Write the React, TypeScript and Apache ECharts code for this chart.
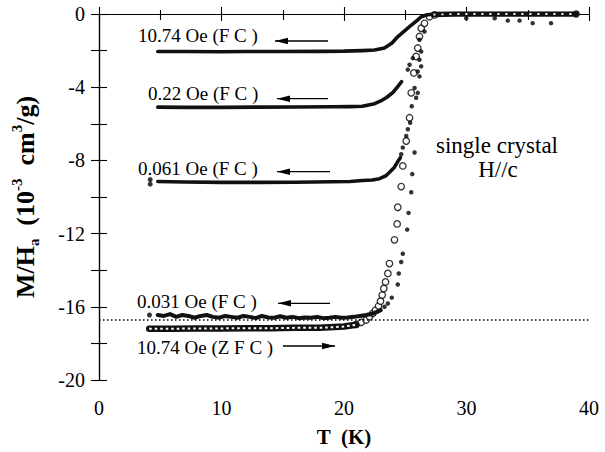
import React, { useEffect, useRef } from "react";
import * as echarts from "echarts";

const FONT = '"Liberation Serif", "Times New Roman", serif';

// Tick values
const xTicks = [0, 10, 20, 30, 40];
const yTicks = [0, -4, -8, -12, -16, -20];

// 10.74 Oe FC
const fc1074T = [4.8, 7.0, 10.0, 12.0, 15.0, 18.0, 20.0, 21.5, 22.5, 23.3, 23.9, 24.4, 24.9, 25.35, 25.7, 26.0, 26.3, 26.8, 27.5];
const fc1074M = [-2.05, -2.05, -2.06, -2.05, -2.05, -2.04, -2.03, -2.0, -1.97, -1.86, -1.6, -1.23, -0.95, -0.69, -0.5, -0.33, -0.15, -0.04, 0];

// 0.22 Oe FC
const fc022T = [4.8, 7.0, 10.0, 13.0, 16.0, 19.0, 20.5, 21.5, 22.5, 23.0, 23.5, 24.0, 24.4, 24.7];
const fc022M = [-5.09, -5.1, -5.1, -5.09, -5.08, -5.07, -5.06, -5.04, -4.9, -4.75, -4.55, -4.28, -3.95, -3.7];

// 0.061 Oe FC
const fc061T = [4.8, 7.0, 10.0, 13.0, 16.0, 19.0, 20.5, 21.5, 22.3, 22.9, 23.4, 23.7, 24.1, 24.4, 24.6];
const fc061M = [-9.15, -9.18, -9.2, -9.2, -9.19, -9.17, -9.15, -9.1, -9.07, -9.0, -8.85, -8.66, -8.39, -8.05, -7.85];
const fc061StartT = [4.18, 4.18];
const fc061StartM = [-9.05, -9.3];

// 0.031 Oe FC (noisy flat part)
const fc031T = [4.8, 5.3, 5.8, 6.3, 6.8, 7.3, 7.8, 8.3, 8.8, 9.3, 9.8, 10.3, 10.8, 11.3, 11.8, 12.3, 12.8, 13.3, 13.8, 14.3, 14.8, 15.3, 15.8, 16.3, 16.8, 17.3, 17.8, 18.3, 18.8, 19.3, 19.8, 20.3, 20.8, 21.3, 21.8, 22.3, 22.7, 23.0];
const fc031M = [-16.45, -16.5, -16.4, -16.55, -16.45, -16.5, -16.6, -16.5, -16.45, -16.55, -16.6, -16.5, -16.55, -16.6, -16.5, -16.55, -16.62, -16.5, -16.58, -16.6, -16.52, -16.6, -16.55, -16.62, -16.58, -16.6, -16.55, -16.62, -16.6, -16.55, -16.6, -16.58, -16.55, -16.5, -16.45, -16.38, -16.28, -16.18];
const fc031StartT = [4.12];
const fc031StartM = [-16.45];

// FC transition points (filled dots)
const trT = [26.57, 26.16, 26.3, 25.62, 26.16, 25.35, 26.3, 25.21, 26.02, 26.16, 25.76, 26.02, 25.89, 25.53, 25.4, 25.21, 25.08, 24.8, 24.67, 25.76, 25.57, 25.49, 25.27, 25.16, 24.8, 24.67, 24.47, 24.39, 23.9, 23.58, 23.31];
const trM = [-0.96, -1.41, -2.05, -2.41, -2.5, -2.77, -2.86, -3.04, -3.14, -3.41, -4.04, -4.31, -4.58, -5.04, -5.94, -6.3, -6.67, -7.3, -7.66, -7.57, -8.75, -9.74, -10.87, -11.78, -13.1, -13.55, -14.18, -14.78, -15.5, -15.82, -16.0];

// stray FC points near the top
const topDotT = [29.98, 32.3, 33.37, 34.33, 35.4, 36.9];
const topDotM = [-0.23, -0.23, -0.36, -0.36, -0.5, -0.5];

// 10.74 Oe ZFC (open circles)
const zfcLowT = [4.1, 6.0, 8.0, 10.0, 12.0, 14.0, 16.0, 18.0, 20.0, 21.0];
const zfcLowM = [-17.2, -17.2, -17.18, -17.18, -17.17, -17.17, -17.15, -17.15, -17.08, -16.98];
const zfcRiseT = [21.0, 21.4, 21.81, 22.08, 22.35, 22.57, 22.82, 22.98, 23.12, 23.25, 23.39, 23.58, 23.71, 24.12, 24.34, 24.39, 24.67, 24.8, 25.08, 25.35, 25.49, 25.7, 25.89, 26.02, 26.16, 26.3, 26.57, 26.98, 27.4];
const zfcRiseM = [-16.96, -16.85, -16.72, -16.54, -16.36, -16.18, -15.96, -15.69, -15.36, -15.0, -14.64, -14.18, -13.64, -12.34, -11.47, -10.56, -9.43, -8.3, -6.94, -5.67, -4.31, -3.22, -2.32, -1.86, -1.23, -0.78, -0.51, -0.15, -0.05];
const zfcTopT = [27.3, 29.0, 31.0, 33.0, 35.0, 37.0, 38.96];
const zfcTopM = [-0.03, 0, 0, 0, 0, 0, 0];

// dotted reference level
const refLevelT = [0, 40];
const refLevelM = [-16.72, -16.72];

const pairs = (t: number[], m: number[]) => t.map((x, i) => [x, m[i]]);

const labelTexts = ["10.74 Oe (F C )", "0.22 Oe (F C )", "0.061 Oe (F C )", "0.031 Oe (F C )", "10.74 Oe (Z F C )"];

export default function App() {
  const ref = useRef<HTMLDivElement>(null);
  useEffect(() => {
    if (!ref.current) return;
    const chart = echarts.init(ref.current, null, { renderer: "svg" });
    const black = "#000";
    const thick = (data: number[][], w = 3.6) => ({
      type: "line",
      data,
      symbol: "none",
      silent: true,
      lineStyle: { color: "#111", width: w, cap: "round", join: "round" },
    });
    const axisCommon = {
      type: "value",
      axisLine: { lineStyle: { color: black, width: 1.2 } },
      splitLine: { show: false },
    };
    const arrow = (x1: number, x2: number, y: number, dir: "left" | "right") => {
      const tip = dir === "left" ? x1 : x2;
      const back = dir === "left" ? tip + 13 : tip - 13;
      return [
        { type: "line", shape: { x1, y1: y, x2, y2: y }, style: { stroke: black, lineWidth: 1.3 } },
        { type: "polygon", shape: { points: [[tip, y], [back, y - 3.3], [back, y + 3.3]] }, style: { fill: black } },
      ];
    };
    const txt = (text: string, x: number, y: number, size = 19, align = "left") => ({
      type: "text",
      x,
      y,
      style: { text, fontSize: size, fontFamily: FONT, fill: black, align, verticalAlign: "middle" },
    });

    chart.setOption({
      animation: false,
      backgroundColor: "#fff",
      grid: { left: 99, right: 16, top: 14, bottom: 70 },
      xAxis: [
        {
          ...axisCommon,
          min: xTicks[0],
          max: xTicks[xTicks.length - 1],
          interval: 10,
          name: "T  (K)",
          nameLocation: "middle",
          nameGap: 46,
          nameTextStyle: { fontSize: 21, fontFamily: FONT, color: black, fontWeight: "bold" },
          axisTick: { inside: true, length: 7, lineStyle: { color: black, width: 1.1 } },
          minorTick: { show: true, splitNumber: 2, length: 4, lineStyle: { color: black, width: 1.1 } },
          axisLabel: { fontSize: 20, fontFamily: FONT, color: black, margin: 18 },
        },
        {
          ...axisCommon,
          position: "top",
          min: xTicks[0],
          max: xTicks[xTicks.length - 1],
          interval: 10,
          axisTick: { inside: true, length: 7, lineStyle: { color: black, width: 1.1 } },
          minorTick: { show: true, splitNumber: 2, length: 6, lineStyle: { color: black, width: 1.1 } },
          axisLabel: { show: false },
        },
      ],
      yAxis: [
        {
          ...axisCommon,
          min: yTicks[yTicks.length - 1],
          max: yTicks[0],
          interval: 4,
          name: "{b|M/H}{sub|a}{b|  (10}{sup|-3}{b|  cm}{sup|3}{b|/g)}",
          nameLocation: "middle",
          nameGap: 58,
          nameRotate: 90,
          nameTextStyle: {
            color: black,
            rich: {
              b: { fontSize: 26, fontFamily: FONT, fontWeight: "bold", color: black, lineHeight: 32, verticalAlign: "middle" },
              sub: { fontSize: 15, fontFamily: FONT, fontWeight: "bold", color: black, lineHeight: 32, verticalAlign: "bottom" },
              sup: { fontSize: 15, fontFamily: FONT, fontWeight: "bold", color: black, lineHeight: 32, verticalAlign: "top" },
            },
          },
          axisTick: { inside: true, length: 8, lineStyle: { color: black, width: 1.1 } },
          minorTick: { show: true, splitNumber: 2, length: 8, lineStyle: { color: black, width: 1.1 } },
          axisLabel: { fontSize: 20, fontFamily: FONT, color: black, margin: 14 },
        },
        {
          ...axisCommon,
          position: "right",
          min: yTicks[yTicks.length - 1],
          max: yTicks[0],
          interval: 4,
          axisTick: { inside: true, length: 8, lineStyle: { color: black, width: 1.1 } },
          minorTick: { show: true, splitNumber: 2, length: 8, lineStyle: { color: black, width: 1.1 } },
          axisLabel: { show: false },
        },
      ],
      series: [
        {
          type: "line",
          data: pairs(refLevelT, refLevelM),
          symbol: "none",
          silent: true,
          lineStyle: { color: black, width: 1.5, type: [1.5, 2.5] },
        },
        thick(pairs(fc1074T, fc1074M)),
        thick(pairs(fc022T, fc022M)),
        thick(pairs(fc061T, fc061M)),
        thick(pairs(fc031T, fc031M), 4),
        // ZFC chain of circles (flat parts)
        thick(pairs(zfcLowT, zfcLowM), 6.5),
        {
          type: "line",
          data: pairs(zfcLowT, zfcLowM),
          symbol: "none",
          silent: true,
          lineStyle: { color: "#fff", width: 2, type: [2.5, 3] },
        },
        thick(pairs(zfcTopT, zfcTopM), 5.5),
        {
          type: "line",
          data: pairs(zfcTopT, zfcTopM),
          symbol: "none",
          silent: true,
          lineStyle: { color: "#fff", width: 1.8, type: [2, 6] },
        },
        {
          type: "scatter",
          data: pairs(zfcRiseT, zfcRiseM),
          symbol: "circle",
          symbolSize: 6.5,
          itemStyle: { color: "#fff", borderColor: black, borderWidth: 1.3 },
        },
        {
          type: "scatter",
          data: [[zfcTopT[zfcTopT.length - 1], zfcTopM[zfcTopM.length - 1]]],
          symbol: "circle",
          symbolSize: 6,
          itemStyle: { color: "#fff", borderColor: black, borderWidth: 1.3 },
        },
        {
          type: "scatter",
          data: pairs(trT, trM),
          symbol: "circle",
          symbolSize: 4.5,
          itemStyle: { color: black },
        },
        {
          type: "scatter",
          data: pairs(topDotT, topDotM),
          symbol: "circle",
          symbolSize: 4.5,
          itemStyle: { color: black },
        },
        {
          type: "scatter",
          data: [...pairs(fc061StartT, fc061StartM), ...pairs(fc031StartT, fc031StartM)],
          symbol: "circle",
          symbolSize: 5,
          itemStyle: { color: black },
        },
      ],
      graphic: [
        txt(labelTexts[0], 138, 35),
        txt(labelTexts[1], 148, 93),
        txt(labelTexts[2], 138, 168.5),
        txt(labelTexts[3], 137, 301.5),
        txt(labelTexts[4], 137, 347.5),
        ...arrow(275, 328, 41, "left"),
        ...arrow(277, 328, 98.7, "left"),
        ...arrow(277, 330, 171.7, "left"),
        ...arrow(278, 330, 303.3, "left"),
        ...arrow(283, 335, 346, "right"),
        txt("single crystal", 497, 145, 23, "center"),
        txt("H//c", 498, 169, 23, "center"),
      ],
    });
    return () => chart.dispose();
  }, []);
  return (
    <div
      ref={ref}
      style={{ position: "absolute", left: 0, top: 0, width: 605, height: 452, background: "#fff" }}
    />
  );
}
